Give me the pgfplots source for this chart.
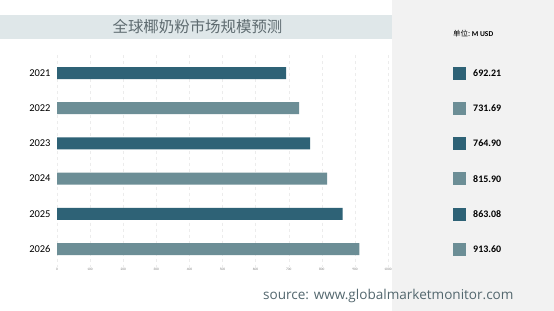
\documentclass[border=0pt]{standalone}
\usepackage{pgfplots}
\pgfplotsset{compat=1.18}
\usepackage{fontspec}
\setmainfont{Carlito}
\newfontfamily\cjk{Noto Sans CJK SC}
\newfontfamily\opensans{Open Sans}
\definecolor{darkbar}{HTML}{2E6276}
\definecolor{lightbar}{HTML}{6C8E96}
\definecolor{band}{HTML}{DFE7E9}
\definecolor{panel}{HTML}{F2F2F2}
\definecolor{srcc}{HTML}{53676E}
\definecolor{titlec}{HTML}{5E6B70}
\begin{document}
\begin{tikzpicture}
\fill[white] (0,0) rectangle (554bp,311bp);
\fill[panel] (392bp,0) rectangle (554bp,311bp);
\fill[band] (0,272bp) rectangle (392bp,296bp);
\node[font=\cjk\fontsize{15.5}{18}\selectfont, text=titlec] at (197.5bp,284bp) {全球椰奶粉市场规模预测};
\node[anchor=west, inner sep=0pt] at (453bp,277bp) {{\cjk\fontsize{7.5}{8}\selectfont 单位:}\,{\bfseries\fontsize{7.5}{8}\selectfont M USD}};
\node[anchor=west, inner sep=0pt, font=\opensans\fontsize{13.6}{15}\selectfont, text=srcc] at (263bp,15bp) {source: www.globalmarketmonitor.com};
\begin{axis}[
  at={(57bp,44.4bp)}, anchor=south west,
  scale only axis, width=331bp, height=211.2bp,
  xmin=0, xmax=1000, ymin=-0.5, ymax=5.5,
  y dir=reverse,
  xbar, bar width=12bp, bar shift=0pt,
  axis line style={draw=none},
  major tick length=0pt,
  xtick={0,100,...,1000},
  ytick={0,1,2,3,4,5},
  yticklabels={2021,2022,2023,2024,2025,2026},
  yticklabel style={font=\fontsize{10.5}{11}\selectfont, xshift=-3bp},
  xticklabel style={font=\fontsize{3.5}{4}\selectfont, text=gray, yshift=2bp},
  /pgf/number format/assume math mode=true,
  /pgf/number format/1000 sep={},
  xmajorgrids, major grid style={gray!15, dashed},
]
\addplot[fill=darkbar, draw=none] coordinates {(692.21,0) (764.90,2) (863.08,4)};
\addplot[fill=lightbar, draw=none] coordinates {(731.69,1) (815.90,3) (913.60,5)};
\end{axis}
\begin{axis}[
  at={(459bp,44.4bp)}, anchor=south west,
  scale only axis, width=60bp, height=211.2bp,
  xmin=0, xmax=1, ymin=-0.5, ymax=5.5,
  y dir=reverse, hide axis, clip=false,
  nodes near coords, point meta=explicit symbolic,
  every node near coord/.style={anchor=west, inner sep=0pt, xshift=14bp, yshift=0pt, font=\bfseries\fontsize{10}{11}\selectfont, text=black},
]
\addplot[only marks, mark=square*, mark size=6bp, mark options={fill=darkbar, draw=darkbar}] table[meta=v] {
x y v
0 0 692.21
0 2 764.90
0 4 863.08
};
\addplot[only marks, mark=square*, mark size=6bp, mark options={fill=lightbar, draw=lightbar}] table[meta=v] {
x y v
0 1 731.69
0 3 815.90
0 5 913.60
};
\end{axis}
\pgfresetboundingbox
\path (0,0) rectangle (554bp,311bp);
\end{tikzpicture}
\end{document}
